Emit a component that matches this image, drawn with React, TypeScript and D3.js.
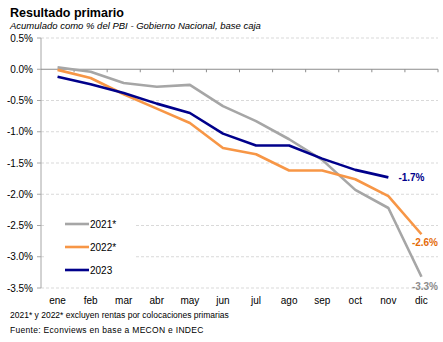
import React from "react";
import * as d3 from "d3";

const months = ["ene", "feb", "mar", "abr", "may", "jun", "jul", "ago", "sep", "oct", "nov", "dic"];
const s2021 = [0.03, -0.04, -0.22, -0.28, -0.25, -0.59, -0.83, -1.12, -1.45, -1.93, -2.22, -3.32];
const s2022 = [-0.01, -0.14, -0.4, -0.63, -0.86, -1.26, -1.36, -1.62, -1.62, -1.76, -2.03, -2.64];
const s2023 = [-0.12, -0.24, -0.38, -0.55, -0.7, -1.03, -1.22, -1.22, -1.43, -1.61, -1.73];
const yTicks = [0.5, 0, -0.5, -1, -1.5, -2, -2.5, -3, -3.5];
const seriesNames = ["2021*", "2022*", "2023"];
const colors = ["#A6A6A6", "#F79646", "#00008B"];
const endLabels = ["-3.3%", "-2.6%", "-1.7%"];
const labelColors = ["#8C8C8C", "#E46C0A", "#00008B"];

const FONT = "'Liberation Sans', Arial, sans-serif";

export default function App() {
  const W = 443, H = 342;
  const left = 41, right = 438, top = 38, bottom = 288;
  const x = d3.scaleBand<string>().domain(months).range([left, right]);
  const y = d3.scaleLinear().domain([-3.5, 0.5]).range([bottom, top]);
  const cx = (m: string) => (x(m) as number) + x.bandwidth() / 2;
  const all = [s2021, s2022, s2023];
  const line = d3
    .line<number>()
    .x((_, i) => cx(months[i]))
    .y((d) => y(d));
  const fmt = (v: number) => v.toFixed(1) + "%";
  const legendY = [224, 247, 270];

  return (
    <svg width={W} height={H} style={{ position: "absolute", left: 0, top: 0, background: "#fff" }} fontFamily={FONT}>
      <rect width={W} height={H} fill="#fff" />
      <text x={10} y={17} fontSize={12.5} fontWeight="bold" fill="#000">Resultado primario</text>
      <text x={10} y={29} fontSize={9.5} fontStyle="italic" fill="#000">Acumulado como % del PBI - Gobierno Nacional, base caja</text>
      {yTicks.map((t) => (
        <g key={t}>
          {t !== 0 && (
            <line x1={left} x2={right} y1={y(t)} y2={y(t)} stroke="#D9D9D9" strokeWidth={1} strokeDasharray="3,2" />
          )}
          <line x1={left - 4} x2={left} y1={y(t)} y2={y(t)} stroke="#A6A6A6" />
          <text x={33} y={y(t)} dy="0.35em" fontSize={10} textAnchor="end" fill="#000">{fmt(t)}</text>
        </g>
      ))}
      <line x1={left} x2={left} y1={top} y2={bottom} stroke="#A6A6A6" />
      <line x1={left} x2={right} y1={y(0)} y2={y(0)} stroke="#8C8C8C" />
      {months.map((m) => (
        <line key={"t" + m} x1={(x(m) as number) + x.bandwidth()} x2={(x(m) as number) + x.bandwidth()} y1={y(0)} y2={y(0) + 3} stroke="#8C8C8C" />
      ))}
      {months.map((m) => (
        <text key={m} x={cx(m)} y={300} dy="0.35em" fontSize={10} textAnchor="middle" fill="#000">{m}</text>
      ))}
      <rect x={46} y={212} width={89} height={70} fill="#fff" />
      {all.map((s, i) => (
        <path key={i} d={line(s) || ""} fill="none" stroke={colors[i]} strokeWidth={2.6} strokeLinejoin="round" />
      ))}
      {seriesNames.map((n, i) => (
        <g key={n}>
          <line x1={65} x2={89} y1={legendY[i]} y2={legendY[i]} stroke={colors[i]} strokeWidth={2.6} />
          <text x={90} y={legendY[i]} dy="0.35em" fontSize={10} fill="#000">{n}</text>
        </g>
      ))}
      <text x={438} y={y(s2021[11]) + 10} dy="0.35em" fontSize={10} fontWeight="bold" textAnchor="end" fill={labelColors[0]}>{endLabels[0]}</text>
      <text x={438} y={y(s2022[11]) + 8} dy="0.35em" fontSize={10} fontWeight="bold" textAnchor="end" fill={labelColors[1]}>{endLabels[1]}</text>
      <text x={cx("nov") + 10} y={y(s2023[10])} dy="0.35em" fontSize={10} fontWeight="bold" fill={labelColors[2]}>{endLabels[2]}</text>
      <text x={10} y={318} fontSize={8.5} fill="#000">2021* y 2022* excluyen rentas por colocaciones primarias</text>
      <text x={10} y={333} fontSize={8.5} letterSpacing={0.3} fill="#000">Fuente: Econviews en base a MECON e INDEC</text>
    </svg>
  );
}
